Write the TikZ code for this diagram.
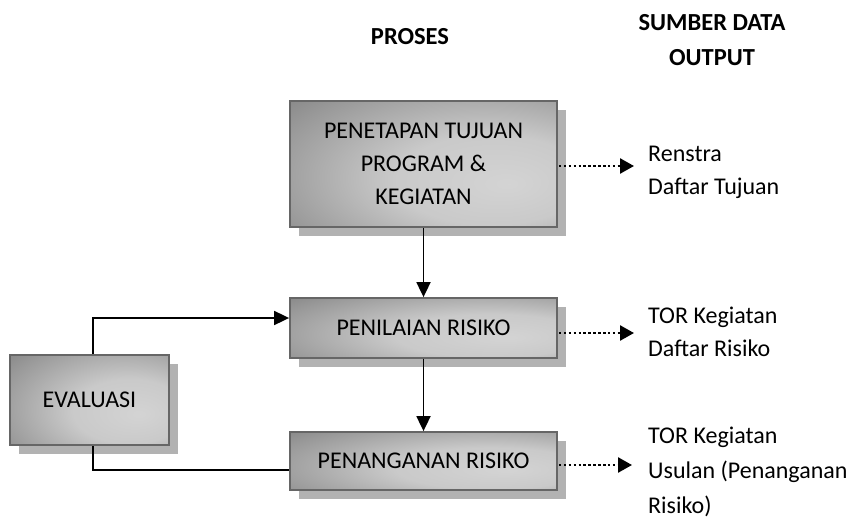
\documentclass[tikz,border=0pt]{standalone}
\usepackage{fontspec}
\setmainfont{Carlito}
\usetikzlibrary{shadows,arrows.meta}
\pgfdeclareradialshading{boxshade}{\pgfpoint{16bp}{-8bp}}{color(0bp)=(black!17); color(18bp)=(black!21); color(38bp)=(black!40); color(58bp)=(black!60); color(85bp)=(black!72)}
\begin{document}
\begin{tikzpicture}[x=1pt,y=-1pt,
  procbox/.style={draw=black!60, line width=1.8pt, shading=boxshade,
    drop shadow={shadow xshift=9pt, shadow yshift=-9pt, fill=black!30, opacity=1},
    align=center, font=\fontsize{24}{33}\selectfont, inner sep=0pt},
  outtext/.style={anchor=north west, align=left, inner sep=0pt},
  head/.style={font=\bfseries\fontsize{24.5}{35}\selectfont, align=center, inner sep=0pt},
  solidarrow/.style={line width=1.8pt, -{Triangle[length=15pt,width=14pt]}},
  solidline/.style={line width=1.8pt},
  dotarrow/.style={line width=2.5pt, dash pattern=on 2.5pt off 2.4pt, -{Triangle[length=14pt,width=15pt]}}
]
\useasboundingbox (0,0) rectangle (846,522);
\node[head] (hproses) at (410,37) {PROSES};
\node[head] (hsumber) at (712,40) {SUMBER DATA\\OUTPUT};

\node[procbox, minimum width=267pt, minimum height=126pt] (b1) at (423.5,164) {PENETAPAN TUJUAN\\PROGRAM \&\\KEGIATAN};
\node[procbox, minimum width=267pt, minimum height=60pt] (b2) at (423.5,328) {PENILAIAN RISIKO};
\node[procbox, minimum width=267pt, minimum height=58pt] (b3) at (423.5,461) {PENANGANAN RISIKO};
\node[procbox, minimum width=159pt, minimum height=90pt] (ev) at (89.5,400) {EVALUASI};

\draw[solidarrow] (b1.south) -- (b2.north);
\draw[solidarrow] (b2.south) -- (b3.north);
\coordinate (e1) at (93,318);
\coordinate (e2) at (93,470);
\draw[solidarrow] (ev.north -| e1) -- (e1) -- (e1 -| b2.west);
\draw[solidline] (ev.south -| e2) -- (e2) -- (e2 -| b3.west);

\node[outtext, font=\fontsize{24}{33}\selectfont] (o1) at (648,146) {Renstra\\Daftar Tujuan};
\node[outtext, font=\fontsize{24}{33}\selectfont] (o2) at (648,307) {TOR Kegiatan\\Daftar Risiko};
\node[outtext, font=\fontsize{24}{35}\selectfont] (o3) at (648,427) {TOR Kegiatan\\Usulan (Penanganan\\Risiko)};

\coordinate (t1) at (634,166);
\coordinate (t2) at (634,333);
\coordinate (t3) at (632,465);
\draw[dotarrow] (t1 -| b1.east) ++(1,0) -- (t1);
\draw[dotarrow] (t2 -| b2.east) ++(1,0) -- (t2);
\draw[dotarrow] (t3 -| b3.east) ++(1,0) -- (t3);
\end{tikzpicture}
\end{document}
